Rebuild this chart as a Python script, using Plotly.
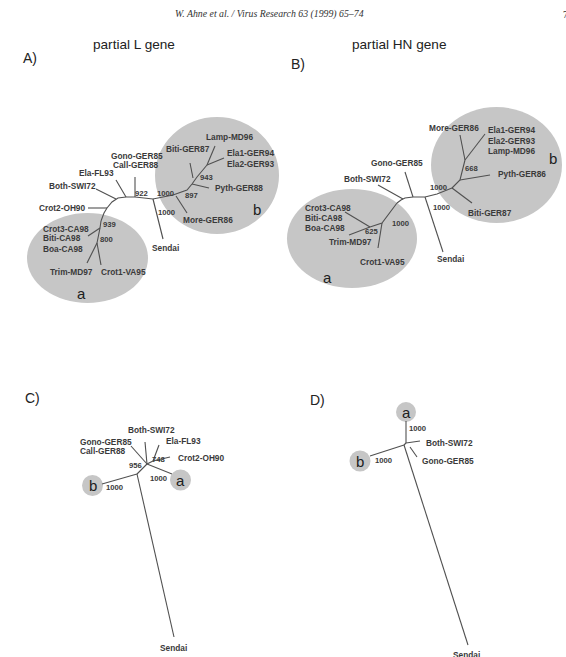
import plotly.graph_objects as go

# ======================= data =======================
HEADER = "W. Ahne et al. / Virus Research 63 (1999) 65–74"
PAGE_NO = "7"
PANEL_TITLES = ["partial L gene", "partial HN gene"]
PANEL_LETTERS = ["A)", "B)", "C)", "D)"]

# ---- Tree A : partial L gene ----
A_leaves = ["Lamp-MD96", "Biti-GER87", "Ela1-GER94", "Ela2-GER93", "Pyth-GER88",
            "More-GER86", "Gono-GER85", "Call-GER88", "Ela-FL93", "Both-SWI72",
            "Crot2-OH90", "Crot3-CA98", "Biti-CA98", "Boa-CA98", "Trim-MD97",
            "Crot1-VA95", "Sendai"]
A_boot = [943, 897, 922, 1000, 1000, 939, 800]
A_clades = ["b", "a"]

# ---- Tree B : partial HN gene ----
B_leaves = ["More-GER86", "Ela1-GER94", "Ela2-GER93", "Lamp-MD96", "Pyth-GER86",
            "Gono-GER85", "Both-SWI72", "Crot3-CA98", "Biti-CA98", "Boa-CA98",
            "Trim-MD97", "Crot1-VA95", "Sendai", "Biti-GER87"]
B_boot = [668, 1000, 1000, 1000, 625]
B_clades = ["b", "a"]

# ---- Tree C ----
C_leaves = ["Both-SWI72", "Gono-GER85", "Call-GER88", "Ela-FL93", "Crot2-OH90", "Sendai"]
C_boot = [748, 956, 1000, 1000]
C_clades = ["b", "a"]

# ---- Tree D ----
D_leaves = ["Both-SWI72", "Gono-GER85", "Sendai"]
D_boot = [1000, 1000]
D_clades = ["a", "b"]

# ======================= layout (page-pixel space) =======================
A_leaf_x = [204, 164, 225, 225, 213, 181, 109, 111, 77, 47, 37, 41, 41, 41, 48, 99, 165]
A_leaf_y = [137, 149, 153, 164, 188, 220, 156, 165, 173, 186, 208, 228.5, 238, 248.5, 272, 272, 248]
A_boot_x = [206, 191, 141, 165, 166, 109, 106]
A_boot_y = [177, 195, 193, 193, 212, 224, 239]
A_clade_x = [257, 81]
A_clade_y = [209, 293]
A_ellipses = [(155, 117, 279, 234), (27, 213, 148, 303)]
A_branches = [
    [(101, 221), (104, 213), (107, 208), (112, 202), (118, 198), (126, 197), (135, 197), (153, 199), (173, 195)],
    [(107, 208), (88, 208)],
    [(116, 199), (96, 189)],
    [(126, 197), (116, 180)],
    [(135, 197), (135, 177)],
    [(153, 199), (163, 239)],
    [(173, 195), (187, 190), (192, 184), (197, 177), (207, 165)],
    [(176, 196), (187, 213)],
    [(192, 184), (209, 188)],
    [(193, 178), (190, 163)],
    [(207, 165), (215, 146)],
    [(207, 165), (224, 158)],
    [(101, 221), (100, 228), (97, 243)],
    [(100, 228), (88, 236)],
    [(97, 243), (87, 263)],
    [(97, 243), (101, 265)],
]

B_leaf_x = [427, 486, 486, 486, 496, 369, 342, 303, 303, 303, 327, 358, 450, 466]
B_leaf_y = [128, 130, 141, 151, 174, 163, 179, 207.5, 217.5, 228, 242, 262, 259, 213]
B_boot_x = [472, 438, 441, 400, 372]
B_boot_y = [168, 187, 207, 223, 231]
B_clade_x = [553, 327]
B_clade_y = [158, 277]
B_ellipses = [(431, 107, 562, 223), (287, 189, 417, 288)]
B_branches = [
    [(397, 203), (401, 200), (405, 198), (413, 197), (425, 197), (437, 194), (452, 188)],
    [(403, 199), (378, 185)],
    [(413, 197), (405, 172)],
    [(425, 197), (443, 252)],
    [(452, 188), (460, 180), (465, 160)],
    [(452, 188), (472, 203)],
    [(460, 180), (490, 175)],
    [(465, 160), (460, 135)],
    [(465, 160), (485, 134)],
    [(397, 203), (382, 223), (370, 227)],
    [(382, 223), (378, 248)],
    [(370, 227), (345, 212)],
    [(370, 227), (349, 235)],
]

C_leaf_x = [126, 78, 78, 164, 176, 173]
C_leaf_y = [430, 442, 451, 441, 458, 648]
C_boot_x = [159, 135, 158, 114]
C_boot_y = [459, 465, 478, 487]
C_clade_x = [92.5, 180.5]
C_clade_y = [485.5, 480]
C_ellipses = [(82, 475, 103, 496), (170, 469.5, 191, 490.5)]
C_branches = [
    [(147, 464), (145, 442)],
    [(147, 464), (131, 446)],
    [(147, 464), (153, 461)],
    [(153, 461), (159, 445)],
    [(153, 461), (170, 457)],
    [(147, 464), (172, 474)],
    [(147, 464), (137, 474)],
    [(137, 474), (102, 484)],
    [(137, 474), (174, 637)],
]

D_leaf_x = [424, 420, 466]
D_leaf_y = [443, 461, 655]
D_boot_x = [417, 383]
D_boot_y = [428, 460]
D_clade_x = [406, 360]
D_clade_y = [412, 461]
D_ellipses = [(396, 402, 416, 422), (349.5, 450.5, 370.5, 471.5)]
D_branches = [
    [(406, 421), (406, 443)],
    [(406, 443), (420, 441)],
    [(410, 447), (417, 457)],
    [(406, 443), (404, 445)],
    [(404, 445), (370, 456)],
    [(404, 445), (468, 645)],
]

# ======================= drawing =======================
W, H = 566, 657
TXT = "#3a3a3a"
LINE = "#505050"
FILL = "#c6c6c6"
SANS = "Liberation Sans, Arial, sans-serif"
SERIF = "Liberation Serif, Times New Roman, serif"

fig = go.Figure()
shapes = []
ann = []


def add_tree(branches, ellipses, leaves, lx, ly, boots, bx, by, clades, cx, cy):
    xs, ys = [], []
    for br in branches:
        for (x, y) in br:
            xs.append(x)
            ys.append(y)
        xs.append(None)
        ys.append(None)
    for (x0, y0, x1, y1) in ellipses:
        shapes.append(dict(type="circle", xref="x", yref="y", x0=x0, y0=y0, x1=x1, y1=y1,
                           fillcolor=FILL, line=dict(width=0), layer="below"))
    fig.add_trace(go.Scatter(x=xs, y=ys, mode="lines", line=dict(color=LINE, width=1.1),
                             hoverinfo="skip", showlegend=False))
    for t, x, y in zip(leaves, lx, ly):
        anchor = "center" if t == "Sendai" else "left"
        ann.append(dict(x=x, y=y, text="<b>%s</b>" % t, xanchor=anchor, yanchor="middle",
                        font=dict(family=SANS, size=8.3, color=TXT)))
    for v, x, y in zip(boots, bx, by):
        ann.append(dict(x=x, y=y, text="<b>%d</b>" % v, xanchor="center", yanchor="middle",
                        font=dict(family=SANS, size=7.7, color=TXT)))
    for t, x, y in zip(clades, cx, cy):
        ann.append(dict(x=x, y=y, text=t, xanchor="center", yanchor="middle",
                        font=dict(family=SANS, size=15, color="#202020")))


add_tree(A_branches, A_ellipses, A_leaves, A_leaf_x, A_leaf_y, A_boot, A_boot_x, A_boot_y,
         A_clades, A_clade_x, A_clade_y)
add_tree(B_branches, B_ellipses, B_leaves, B_leaf_x, B_leaf_y, B_boot, B_boot_x, B_boot_y,
         B_clades, B_clade_x, B_clade_y)
add_tree(C_branches, C_ellipses, C_leaves, C_leaf_x, C_leaf_y, C_boot, C_boot_x, C_boot_y,
         C_clades, C_clade_x, C_clade_y)
add_tree(D_branches, D_ellipses, D_leaves, D_leaf_x, D_leaf_y, D_boot, D_boot_x, D_boot_y,
         D_clades, D_clade_x, D_clade_y)

# header / titles / panel letters
ann.append(dict(x=269, y=14, text="<i>%s</i>" % HEADER, xanchor="center", yanchor="middle",
                font=dict(family=SERIF, size=9.8, color="#333")))
ann.append(dict(x=561, y=14, text=PAGE_NO, xanchor="left", yanchor="middle",
                font=dict(family=SERIF, size=9.8, color="#333")))
for t, x in zip(PANEL_TITLES, [134, 398.5]):
    ann.append(dict(x=x, y=44, text=t, xanchor="center", yanchor="middle",
                    font=dict(family=SANS, size=13.6, color="#222")))
for t, x, y in zip(PANEL_LETTERS, [21, 289, 23, 308], [58, 64, 398, 400]):
    ann.append(dict(x=x, y=y, text=t, xanchor="left", yanchor="middle",
                    font=dict(family=SANS, size=14, color="#222")))

for a in ann:
    a.update(xref="x", yref="y", showarrow=False)

fig.update_layout(
    width=W, height=H,
    margin=dict(l=0, r=0, t=0, b=0),
    paper_bgcolor="white", plot_bgcolor="white",
    xaxis=dict(range=[0, W], visible=False, fixedrange=True),
    yaxis=dict(range=[H, 0], visible=False, fixedrange=True),
    shapes=shapes, annotations=ann,
)
fig.write_html("out.html", config={"displayModeBar": False},
               post_script="document.body.style.margin='0px';document.body.style.overflow='hidden';")
